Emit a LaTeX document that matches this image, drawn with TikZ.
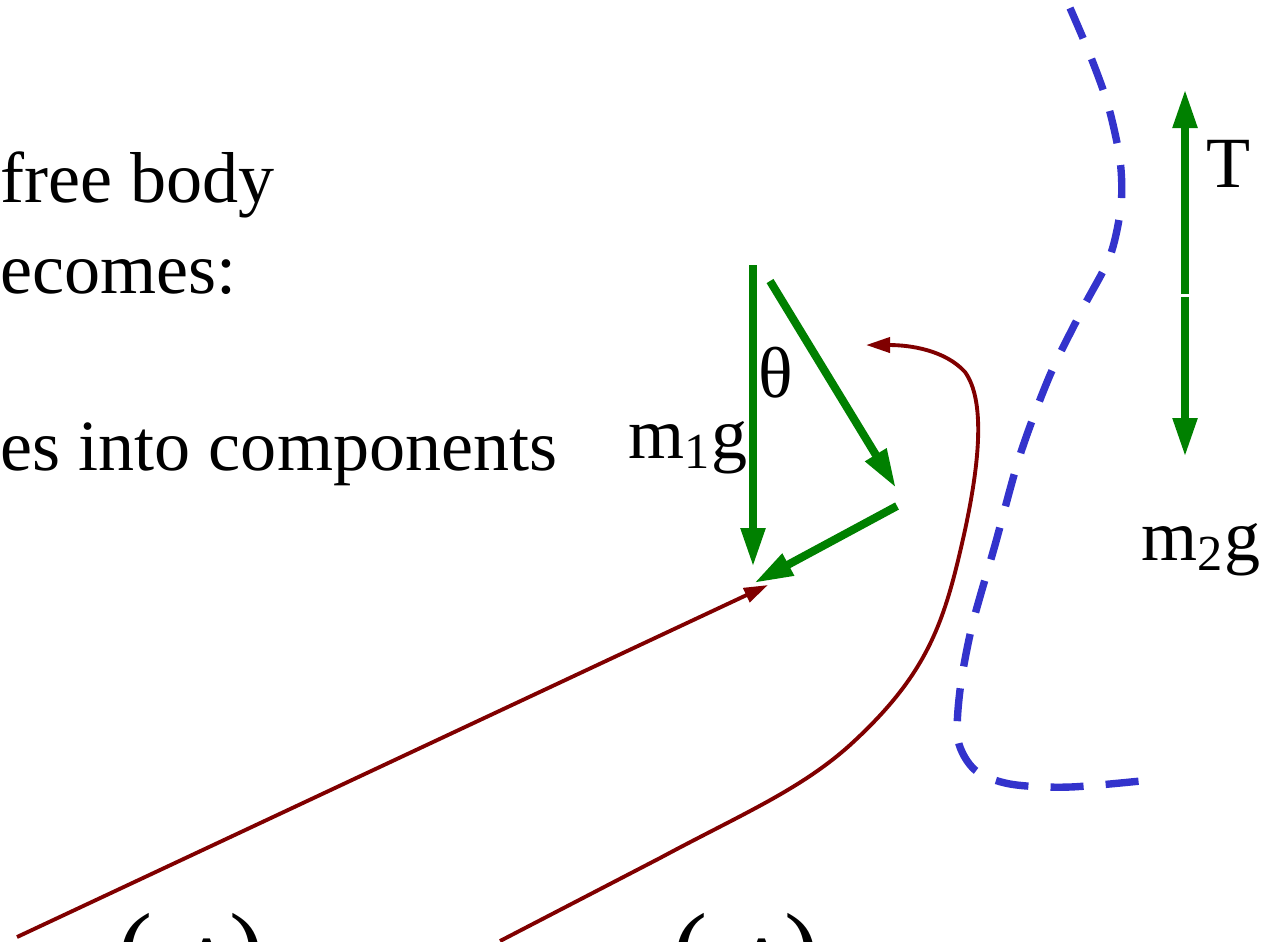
\documentclass[tikz,border=0pt]{standalone}
\usepackage{fontspec}
\setmainfont{Liberation Serif}
\newfontfamily\slidefont{Liberation Serif}
\usepackage{xcolor}
\usepackage{tikz}
\usetikzlibrary{arrows.meta}
\definecolor{fgreen}{RGB}{0,128,0}
\definecolor{fred}{RGB}{128,0,0}
\definecolor{fblue}{RGB}{51,51,204}

\begin{document}
\begin{tikzpicture}[x=0.01cm, y=-0.01cm,
    txt/.style={inner sep=0pt, font=\slidefont\fontsize{20.5}{25}\selectfont},
    force/.style={fgreen, line width=2.3pt, -{Triangle[length=0.39cm, width=0.23cm]}},
    guide/.style={fred, line width=1.1pt, -{Triangle[length=0.24cm, width=0.15cm]}},
    border/.style={fblue, line width=2.1pt, dash pattern=on 9.4pt off 6.3pt}]
    \useasboundingbox (0,0) rectangle (1274,941);
    \clip (0,0) rectangle (1274,941);

    % text
    \node[txt, anchor=base west] (line1) at (0,202) {free body};
    \node[txt, anchor=base west] (line2) at (0,293) {ecomes:};
    \node[txt, anchor=base west] (line3) at (0,470) {es into components};
    \node[txt, anchor=base west] (eqa) at (117,986)
        {{\fontsize{30}{30}\selectfont(}\kern-3.5pt−A\kern-1pt{\fontsize{30}{30}\selectfont)}};
    \node[txt, anchor=base west] (eqb) at (672,986)
        {{\fontsize{30}{30}\selectfont(}\kern-3.5pt−A\kern-1pt{\fontsize{30}{30}\selectfont)}};

    % mass 1
    \coordinate (wa) at (753,265);
    \coordinate (wb) at (753,567);
    \coordinate (na) at (770,281);
    \coordinate (nb) at (896,488);
    \coordinate (fa) at (897,506);
    \coordinate (fb) at (754,583);
    \draw[force] (wa) -- (wb);
    \draw[force] (na) -- (nb);
    \draw[force] (fa) -- (fb);
    \node[txt, anchor=base east] (mone) at (748,458) {m\textsubscript{1}g};
    \node[txt, anchor=base] (theta) at (776,397) {θ};

    % mass 2
    \coordinate (ta) at (1185,294);
    \coordinate (tb) at (1185,89);
    \coordinate (ga) at (1185,297);
    \coordinate (gb) at (1185,457);
    \draw[force] (ta) -- (tb);
    \draw[force] (ga) -- (gb);
    \node[txt, anchor=base west] (tlab) at (1206,187) {T};
    \node[txt, anchor=base west] (mtwo) at (1141,560) {m\textsubscript{2}g};

    % boundary
    \draw[border] plot[smooth] coordinates {(1070,8) (1090,55) (1108,105) (1120,160)
        (1121,205) (1110,256) (1083,308) (1050,375) (1020,455) (995,545) (972,626)
        (960,690) (958,740) (975,770) (1010,784) (1070,787) (1160,779)};

    % pointers
    \coordinate (pa) at (17,937);
    \coordinate (pb) at (768,585);
    \coordinate (ca) at (500,941);
    \coordinate (cb) at (866,345);
    \draw[guide] (pa) -- (pb);
    \draw[guide] (ca) -- (660,858) .. controls (740,815) and (800,790) .. (850,745)
        .. controls (930,672) and (945,620) .. (965,530)
        .. controls (980,460) and (985,400) .. (965,372)
        .. controls (945,350) and (910,345) .. (cb);
\end{tikzpicture}
\end{document}
